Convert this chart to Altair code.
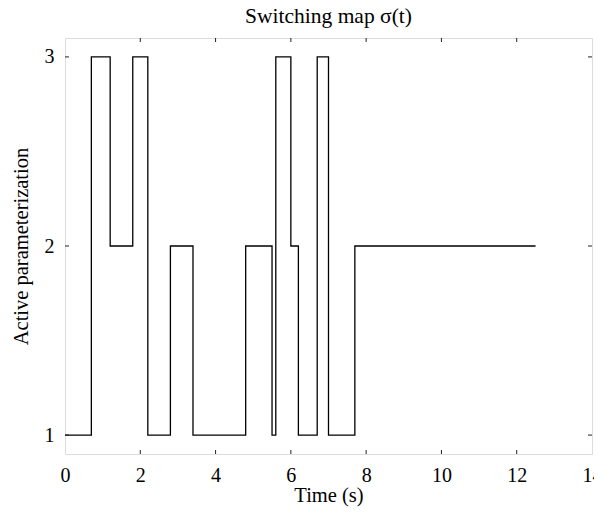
import altair as alt
import pandas as pd

# Switching instants (s) and active parameterization (step-after)
times = [0, 0.7, 1.2, 1.8, 2.2, 2.8, 3.4, 4.8, 5.5, 5.6, 6.0, 6.2, 6.7, 7.0, 7.7, 12.5]
modes = [1, 3, 2, 3, 1, 2, 1, 2, 1, 3, 2, 1, 3, 1, 2, 2]

x_ticks = [0, 2, 4, 6, 8, 10, 12, 14]
y_ticks = [1, 2, 3]

W, H = 527, 416
FONT = "Liberation Serif"
INK = "#222222"
TL = 4  # inward tick length

df = pd.DataFrame({"t": times, "s": modes})
xt = pd.DataFrame({"t": x_ticks})
yt = pd.DataFrame({"s": y_ticks})

xscale = alt.Scale(domain=[0, 14], nice=False, zero=False)
yscale = alt.Scale(domain=[0.9, 3.1], nice=False, zero=False)

xaxis = alt.Axis(values=x_ticks, format="d", title="Time (s)", ticks=False, domain=False, grid=False,
                 labelFont=FONT, labelFontSize=20, labelColor="black", labelPadding=11,
                 labelOverlap=False, labelBound=False, labelFlush=False,
                 titleFont=FONT, titleFontSize=20.5, titleFontWeight="normal", titleColor="black",
                 titleY=41, titleBaseline="middle")
yaxis = alt.Axis(values=y_ticks, format="d", title="Active parameterization", ticks=False, domain=False, grid=False,
                 labelFont=FONT, labelFontSize=20, labelColor="black", labelPadding=11,
                 titleFont=FONT, titleFontSize=20.5, titleFontWeight="normal", titleColor="black",
                 titleX=-44, titleBaseline="middle")

line = alt.Chart(df).mark_line(interpolate="step-after", color="black", strokeWidth=1.3).encode(
    x=alt.X("t:Q", scale=xscale, axis=xaxis),
    y=alt.Y("s:Q", scale=yscale, axis=yaxis),
)

inner_x = xt[(xt.t > 0) & (xt.t < 14)]
tick_bot = alt.Chart(inner_x).mark_rule(color=INK, strokeWidth=1).encode(
    x=alt.X("t:Q", scale=xscale), y=alt.value(H), y2=alt.value(H - TL))
tick_top = alt.Chart(inner_x).mark_rule(color=INK, strokeWidth=1).encode(
    x=alt.X("t:Q", scale=xscale), y=alt.value(0), y2=alt.value(TL))
tick_left = alt.Chart(yt).mark_rule(color=INK, strokeWidth=1).encode(
    y=alt.Y("s:Q", scale=yscale), x=alt.value(0), x2=alt.value(TL))
tick_right = alt.Chart(yt).mark_rule(color=INK, strokeWidth=1).encode(
    y=alt.Y("s:Q", scale=yscale), x=alt.value(W), x2=alt.value(W - TL))

chart = alt.layer(line, tick_bot, tick_top, tick_left, tick_right).properties(
    width=W, height=H,
    title=alt.TitleParams("Switching map σ(t)", font=FONT, fontSize=21.5, fontWeight="normal",
                          color="black", anchor="middle", offset=10),
    autosize=alt.AutoSizeParams(type="none"),
    padding={"left": 57, "top": 30, "right": 2, "bottom": 54},
).configure_view(stroke=INK, strokeWidth=1.2).configure(background="white")

chart.save("out.html", embed_options={"renderer": "svg", "actions": False})
